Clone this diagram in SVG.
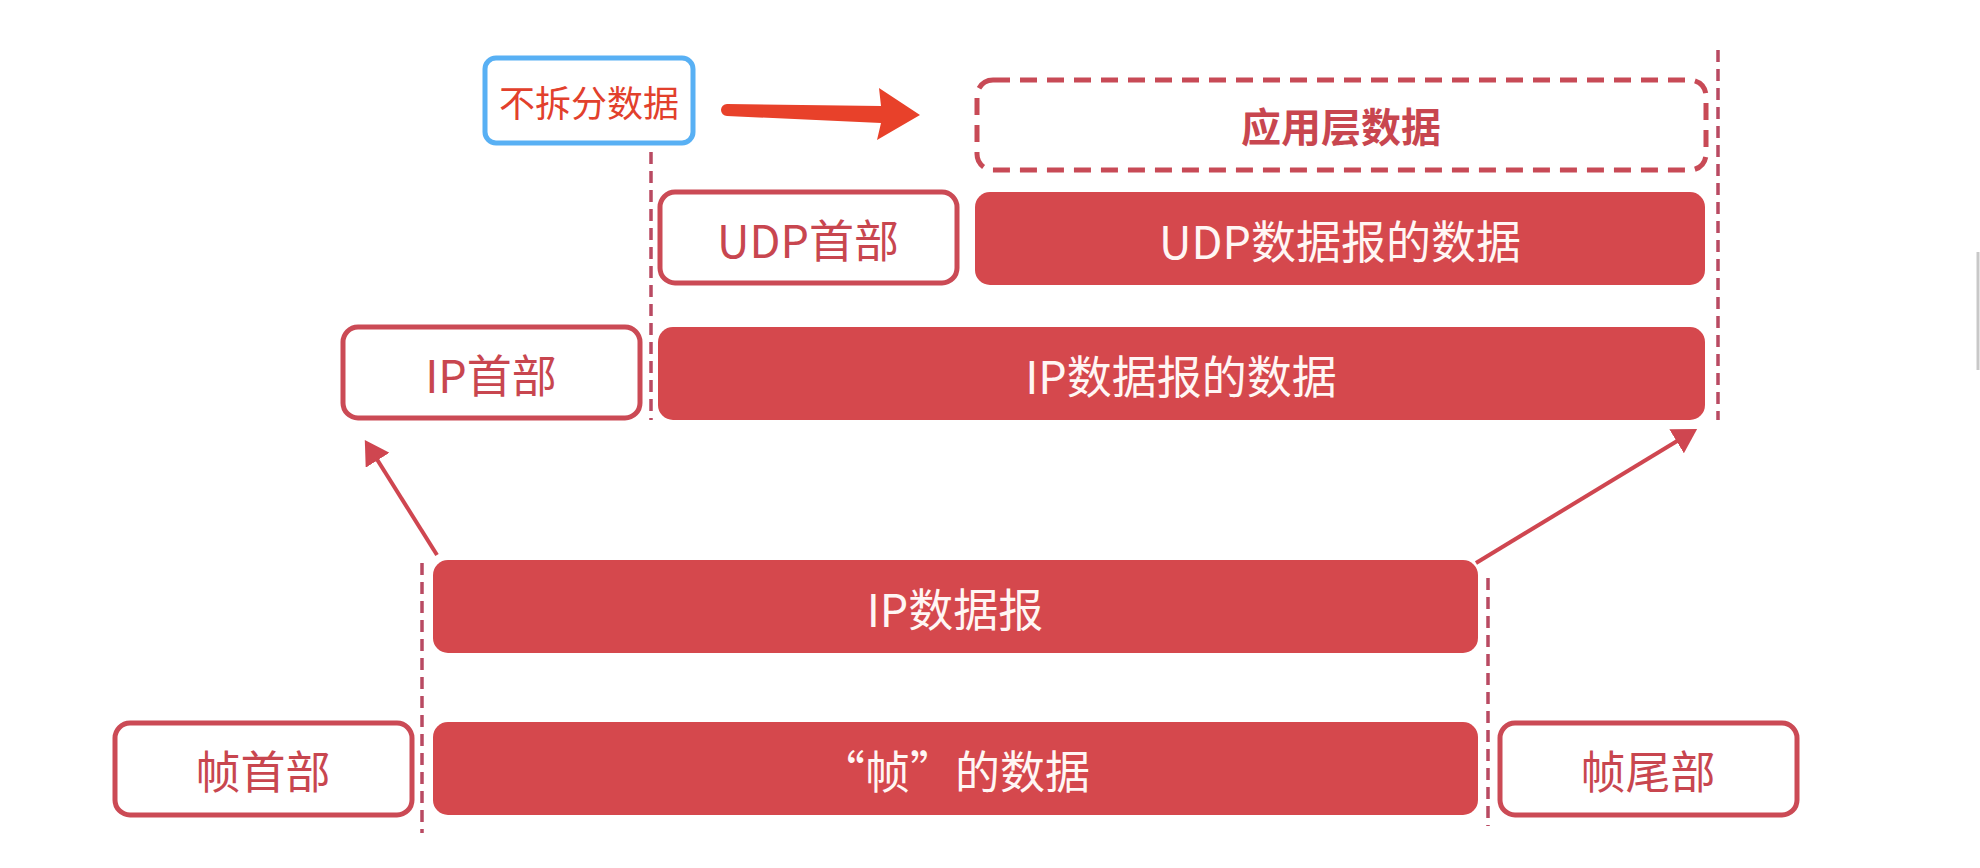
<svg xmlns="http://www.w3.org/2000/svg" width="1980" height="868" viewBox="0 0 1980 868">
<style>
.fill{fill:#d5484d;}
.out{fill:#ffffff;stroke:#cb4a55;stroke-width:5;}
.dbox{fill:none;stroke:#c84a56;stroke-width:5;stroke-dasharray:17 10;}
.vdash{fill:none;stroke:#b94a62;stroke-width:3.5;stroke-dasharray:12 7;}
.tw{fill:#fff6f4;font-family:"Noto Sans CJK SC","Noto Sans",sans-serif;font-size:45px;text-anchor:middle;dominant-baseline:central;}
.tr{fill:#c8464f;font-family:"Noto Sans CJK SC","Noto Sans",sans-serif;font-size:45px;text-anchor:middle;dominant-baseline:central;}
.conn{fill:none;stroke:#cf4650;stroke-width:4;}
</style>
<defs>
<marker id="ah" markerWidth="7" markerHeight="7" refX="4.5" refY="3.5" orient="auto" markerUnits="strokeWidth">
<path d="M0,0 L6,3.5 L0,7 Z" fill="#cf4650"/>
</marker>
</defs>
<rect width="1980" height="868" fill="#ffffff"/>

<g id="guides">
<line class="vdash" x1="651" y1="152" x2="651" y2="420"/>
<line class="vdash" x1="1718" y1="50" x2="1718" y2="420"/>
<line class="vdash" x1="422" y1="563" x2="422" y2="833"/>
<line class="vdash" x1="1488" y1="578" x2="1488" y2="826"/>
</g>

<g id="note">
<rect x="485" y="58" width="208" height="85" rx="11" fill="#ffffff" stroke="#58b0f4" stroke-width="5"/>
<text x="589" y="101" fill="#e2402c" font-family="'Noto Sans CJK SC','Noto Sans',sans-serif" font-size="36" text-anchor="middle" dominant-baseline="central">不拆分数据</text>
</g>

<g id="app-data">
<rect class="dbox" x="977" y="80" width="729" height="90" rx="16"/>
<text class="tr" x="1341" y="125" font-weight="bold" style="font-size:40px">应用层数据</text>
</g>

<g id="udp-header">
<rect class="out" x="660" y="192" width="297" height="91" rx="15"/>
<text class="tr" x="808" y="238">UDP首部</text>
</g>
<g id="udp-data">
<rect class="fill" x="975" y="192" width="730" height="93" rx="15"/>
<text class="tw" x="1340" y="239">UDP数据报的数据</text>
</g>

<g id="ip-header">
<rect class="out" x="343" y="327" width="297" height="91" rx="15"/>
<text class="tr" x="491" y="373">IP首部</text>
</g>
<g id="ip-data">
<rect class="fill" x="658" y="327" width="1047" height="93" rx="15"/>
<text class="tw" x="1181" y="374">IP数据报的数据</text>
</g>

<g id="ip-datagram">
<rect class="fill" x="433" y="560" width="1045" height="93" rx="15"/>
<text class="tw" x="955" y="607">IP数据报</text>
</g>

<g id="frame-header">
<rect class="out" x="115" y="723" width="297" height="92" rx="15"/>
<text class="tr" x="263" y="769">帧首部</text>
</g>
<g id="frame-data">
<rect class="fill" x="433" y="722" width="1045" height="93" rx="15"/>
<text class="tw" x="955" y="769">“帧”的数据</text>
</g>
<g id="frame-trailer">
<rect class="out" x="1500" y="723" width="297" height="92" rx="15"/>
<text class="tr" x="1648" y="769">帧尾部</text>
</g>

<g id="connectors">
<line class="conn" x1="437" y1="555" x2="368" y2="445" marker-end="url(#ah)"/>
<line class="conn" x1="1476" y1="563" x2="1692" y2="432" marker-end="url(#ah)"/>
<path d="M727,104 L881,106 L879,88 L920,115 L877,140 L881,123 L727,116 A6,6 0 0 1 727,104 Z" fill="#e8412a"/>
</g>

<line x1="1978" y1="252" x2="1978" y2="370" stroke="#c8c8c8" stroke-width="3"/>
</svg>
